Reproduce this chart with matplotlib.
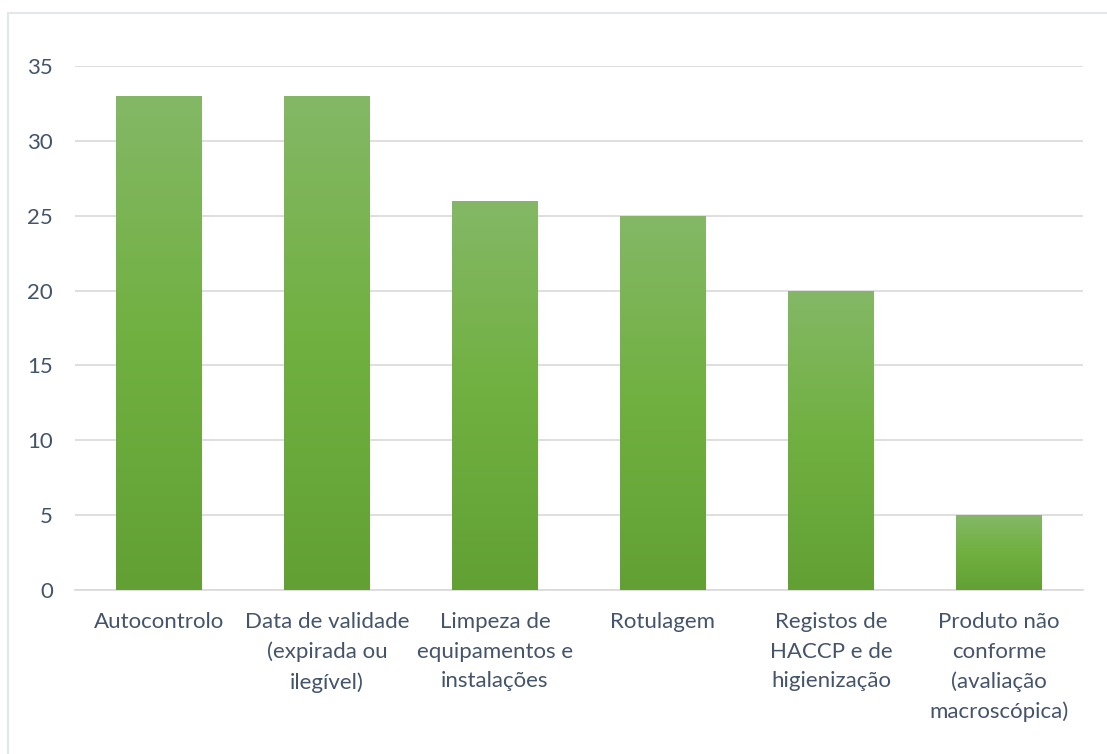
import matplotlib
matplotlib.use('Agg')
import matplotlib.pyplot as plt
import numpy as np
from matplotlib.colors import LinearSegmentedColormap
from matplotlib.patches import Rectangle

categories = ['Autocontrolo', 'Data de validade\n(expirada ou\nilegível)',
              'Limpeza de\nequipamentos e\ninstalações', 'Rotulagem',
              'Registos de\nHACCP e de\nhigienização',
              'Produto não\nconforme\n(avaliação\nmacroscópica)']
values = [33, 33, 26, 25, 20, 5]
yticks = [0, 5, 10, 15, 20, 25, 30, 35]

plt.rcParams['font.family'] = ['Lato', 'DejaVu Sans']
text_color = '#44546a'
grid_color = '#d9d9d9'

fig = plt.figure(figsize=(11.07, 7.54), dpi=100)
ax = fig.add_axes([75 / 1107, (754 - 590) / 754, (1083 - 75) / 1107, (590 - 66) / 754])

# outer chart frame
fig.patches.append(Rectangle((8 / 1107, -0.01), 1.1, 1 - 13 / 754 + 0.01, transform=fig.transFigure,
                             fill=False, edgecolor='#e3e6ea', linewidth=1.5))

x = np.arange(len(categories))
width = 0.506
bars = ax.bar(x, values, width=width, color='none', edgecolor='none', zorder=3)

cmap = LinearSegmentedColormap.from_list('g', ['#62a034', '#70b040', '#84b866'])
grad = np.linspace(0, 1, 256).reshape(-1, 1)
for b in bars:
    x0, h = b.get_x(), b.get_height()
    im = ax.imshow(grad, cmap=cmap, origin='lower', aspect='auto',
                   extent=[x0, x0 + width, 0, h], zorder=3)
    im.set_clip_path(b)

ax.set_xlim(-0.5, len(categories) - 0.5)
ax.set_ylim(0, 35)
ax.set_yticks(yticks)
ax.set_xticks(x)
ax.set_xticklabels(categories, linespacing=1.58, fontsize=16, color=text_color, va='top')
ax.tick_params(axis='y', length=0, pad=16, labelsize=16, labelcolor=text_color)
ax.tick_params(axis='x', length=0, pad=16)
ax.grid(axis='y', color=grid_color, linewidth=1.2, zorder=0)
for s in ['top', 'right', 'left']:
    ax.spines[s].set_visible(False)
ax.spines['bottom'].set_color(grid_color)
ax.spines['bottom'].set_linewidth(1.2)

fig.savefig('out.png', dpi=100)
